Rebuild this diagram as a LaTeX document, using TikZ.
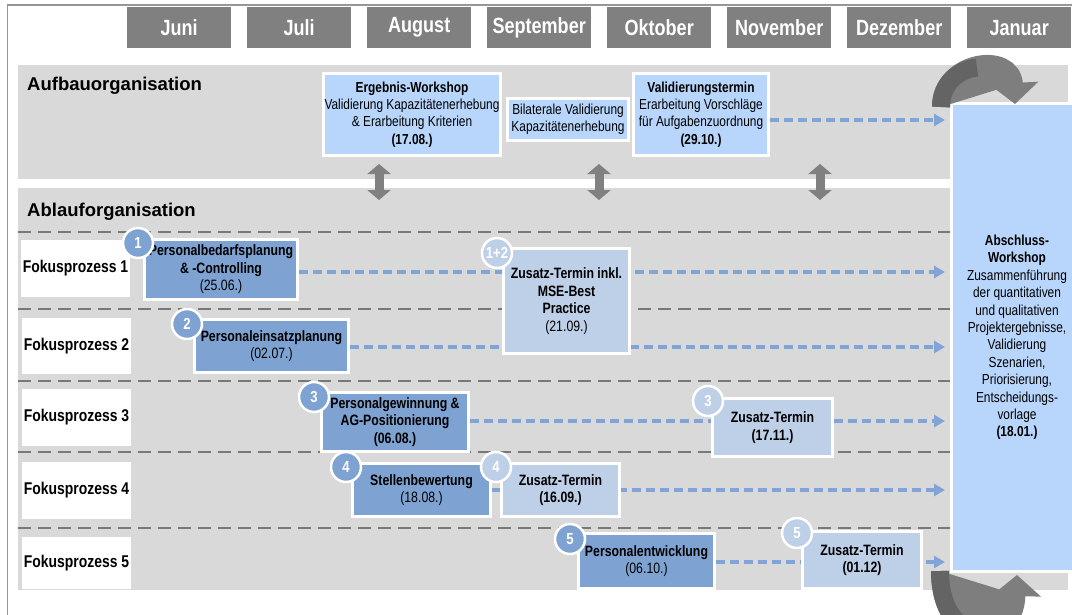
\documentclass[tikz,border=0pt]{standalone}
\usepackage{fontspec}
\setmainfont{Liberation Sans}
\newfontfamily\nfont[FakeStretch=0.82]{Liberation Sans}
\usetikzlibrary{arrows.meta}

\definecolor{bandgray}{RGB}{217,217,217}
\definecolor{tabgray}{RGB}{128,128,128}
\definecolor{framegray}{RGB}{150,150,150}
\definecolor{sepgray}{RGB}{120,120,120}
\definecolor{aufblue}{RGB}{184,214,251}
\definecolor{mainblue}{RGB}{126,163,210}
\definecolor{extrablue}{RGB}{190,207,232}
\definecolor{flowblue}{RGB}{128,164,214}
\definecolor{loopdark}{RGB}{100,100,100}
\definecolor{looplight}{RGB}{126,126,126}

\pgfdeclarelayer{back}
\pgfdeclarelayer{mid}
\pgfsetlayers{back,mid,main}

\begin{document}
\begin{tikzpicture}[x=1pt,y=-1pt,
  tab/.style={fill=tabgray, text=white, font=\nfont\bfseries\fontsize{22}{24}\selectfont,
    minimum width=104pt, minimum height=41pt, inner sep=0pt, anchor=north west},
  head/.style={anchor=west, inner sep=0pt, font=\bfseries\fontsize{18.5}{21}\selectfont},
  box/.style={draw=white, line width=3pt, align=center, inner sep=1pt,
    font=\nfont\fontsize{14.5}{17.4}\selectfont},
  aufbox/.style={box, fill=aufblue},
  mainbox/.style={box, fill=mainblue, font=\nfont\bfseries\fontsize{15}{17.6}\selectfont},
  extrabox/.style={box, fill=extrablue, font=\nfont\bfseries\fontsize{15}{17.6}\selectfont},
  num/.style={circle, draw=white, line width=2.5pt, minimum size=30pt, inner sep=0pt,
    text=white, font=\nfont\bfseries\fontsize{16}{18}\selectfont},
  numA/.style={num, fill=mainblue},
  numB/.style={num, fill=extrablue},
  fp/.style={fill=white, minimum width=109pt, minimum height=57pt, inner sep=0pt,
    font=\nfont\bfseries\fontsize{17}{20}\selectfont},
  flow/.style={draw=flowblue, line width=3.5pt, dash pattern=on 9pt off 5pt,
    -{Triangle[length=11pt,width=12pt]}, shorten >=5pt},
  sep/.style={draw=sepgray, line width=2.5pt, dash pattern=on 13pt off 7pt},
  link/.style={draw=tabgray, line width=9pt,
    {Triangle[length=10pt,width=23pt]}-{Triangle[length=10pt,width=23pt]}},
  loop/.style={line width=18pt, -{Triangle[length=21pt,width=48pt]}}
]
\useasboundingbox (0,0) rectangle (1072,614);
\clip (0,0) rectangle (1072,614);

% background, frame and the two bands
\begin{pgfonlayer}{back}
  \fill[white] (0,0) rectangle (1072,614);
  \draw[framegray, line width=1.5pt] (7.5,5) rectangle (1100,700);
  \fill[bandgray] (18,65) rectangle (1068,179);
  \fill[bandgray] (18,188) rectangle (1068,590);
\end{pgfonlayer}

% month header
\foreach \m [count=\i from 0] in {Juni,Juli,August,September,Oktober,November,Dezember,Januar}
  \node[tab] (m\i) at ({127+120*\i},7) {\m};

% band titles
\node[head] (aufbau) at (27,86) {Aufbauorganisation};
\node[head] (ablauf) at (27,212) {Ablauforganisation};

% Aufbauorganisation
\node[aufbox, minimum width=177pt, minimum height=82pt] (erg) at (412,114.5)
  {\textbf{Ergebnis-Workshop}\\Validierung Kapazitätenerhebung\\\& Erarbeitung Kriterien\\\textbf{(17.08.)}};
\node[aufbox, minimum width=121pt, minimum height=42pt] (bil) at (568,119.5)
  {Bilaterale Validierung\\Kapazitätenerhebung};
\node[aufbox, minimum width=135pt, minimum height=82pt] (val) at (701,114.5)
  {\textbf{Validierungstermin}\\Erarbeitung Vorschläge\\für Aufgabenzuordnung\\\textbf{(29.10.)}};

% closing workshop
\node[aufbox, minimum width=131pt, minimum height=468pt] (abs) at (1017,337.5)
  {\textbf{Abschluss-}\\\textbf{Workshop}\\Zusammenführung\\der quantitativen\\und qualitativen\\Projektergebnisse,\\Validierung\\Szenarien,\\Priorisierung,\\Entscheidungs-\\vorlage\\\textbf{(18.01.)}};

% focus process labels
\node[fp] (fp1) at (75.5,268.5) {Fokusprozess 1};
\node[fp, minimum height=56pt] (fp2) at (76.5,346) {Fokusprozess 2};
\node[fp] (fp3) at (76.5,417.5) {Fokusprozess 3};
\node[fp] (fp4) at (76.5,490.5) {Fokusprozess 4};
\node[fp, minimum height=52pt] (fp5) at (76.5,563) {Fokusprozess 5};

% focus process appointments
\node[mainbox, minimum width=153pt, minimum height=60pt] (p1) at (221,269.5)
  {Personalbedarfsplanung\\\& -Controlling\\{\mdseries(25.06.)}};
\node[extrabox, minimum width=126pt, minimum height=105pt] (z12) at (566.5,301)
  {Zusatz-Termin inkl.\\MSE-Best\\Practice\\{\mdseries(21.09.)}};
\node[mainbox, minimum width=154pt, minimum height=53pt] (p2) at (271.5,346)
  {Personaleinsatzplanung\\{\mdseries(02.07.)}};
\node[mainbox, minimum width=147pt, minimum height=59pt] (p3) at (395,422)
  {Personalgewinnung \&\\AG-Positionierung\\(06.08.)};
\node[extrabox, minimum width=120pt, minimum height=58pt] (z3) at (772.5,427.5)
  {Zusatz-Termin\\(17.11.)};
\node[mainbox, minimum width=138pt, minimum height=53pt] (p4) at (421.5,490)
  {Stellenbewertung\\{\mdseries(18.08.)}};
\node[extrabox, minimum width=118pt, minimum height=53pt] (z4) at (560.5,490)
  {Zusatz-Termin\\(16.09.)};
\node[mainbox, minimum width=136pt, minimum height=55pt] (p5) at (646.5,561)
  {Personalentwicklung\\{\mdseries(06.10.)}};
\node[extrabox, minimum width=119pt, minimum height=57pt] (z5) at (862,560)
  {Zusatz-Termin\\(01.12)};

% number badges
\node[numA] (n1) at (138,243) {1};
\node[numA] (n2) at (187,324) {2};
\node[numB] (n12) at (497,253) {1+2};
\node[numA] (n3) at (314,397) {3};
\node[numB] (n3b) at (708,401) {3};
\node[numA] (n4) at (346,467) {4};
\node[numB] (n4b) at (496,467) {4};
\node[numA] (n5) at (570,539) {5};
\node[numB] (n5b) at (797,533) {5};

% row separators and flow arrows, behind the boxes
\begin{pgfonlayer}{mid}
  \foreach \y in {232,309,381,452,528}
    \draw[sep] (18,\y) -- (950,\y);
  \draw[flow] ([yshift=-5.5pt]val.east) -- ([yshift=-5.5pt]val.east -| abs.west);
  \draw[flow] ([yshift=-2.5pt]p1.east) -- ([yshift=-2.5pt]p1.east -| abs.west);
  \draw[flow] ([yshift=-1pt]p2.east) -- ([yshift=-1pt]p2.east -| abs.west);
  \draw[flow] ([yshift=1pt]p3.east) -- ([yshift=1pt]p3.east -| abs.west);
  \draw[flow] (p4.east) -- (p4.east -| abs.west);
  \draw[flow] ([yshift=-1pt]p5.east) -- ([yshift=-1pt]p5.east -| abs.west);
\end{pgfonlayer}

% links between the two bands
\foreach \x [count=\k] in {379,599,820} {
  \coordinate (lt\k) at (\x,164);
  \coordinate (lb\k) at (\x,200);
  \draw[link] (lt\k) -- (lb\k);
}

% loop arrows into the closing workshop; the first half of each curve is
% redrawn darker (exact half of the same Bezier, so the two tones meet cleanly)
\coordinate (top0) at (941,107);
\coordinate (top1) at (1015,104);
\draw[loop, draw=looplight, fill=looplight] (top0) .. controls (941,60) and (1012,50) .. (top1);
\draw[line width=18pt, draw=loopdark] (top0) .. controls (941,83.5) and (958.75,69.25) .. (976.9,67.6);
\coordinate (bot0) at (940,571);
\coordinate (bot1) at (1017,575);
\draw[loop, draw=looplight, fill=looplight] (bot0) .. controls (940,650) and (1015,650) .. (bot1);
\draw[line width=18pt, draw=loopdark] (bot0) .. controls (940,610.5) and (958.75,630.25) .. (977.75,630.75);
\end{tikzpicture}
\end{document}
